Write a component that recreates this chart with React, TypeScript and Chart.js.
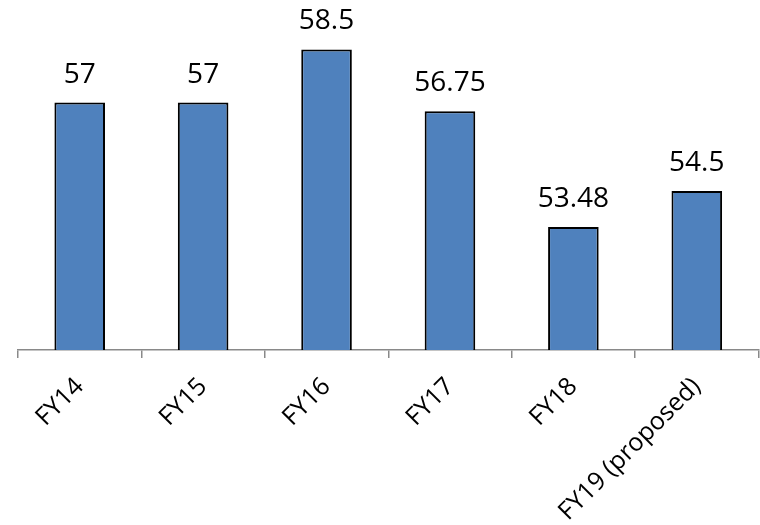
import React, { useEffect, useRef } from "react";
import { Chart, registerables } from "chart.js";

Chart.register(...registerables);

const categories = ["FY14", "FY15", "FY16", "FY17", "FY18", "FY19 (proposed)"];
const values = [57, 57, 58.5, 56.75, 53.48, 54.5];

const FONT = "'Open Sans', 'DejaVu Sans', sans-serif";

const valueLabels = {
  id: "valueLabels",
  afterDatasetsDraw(chart: any) {
    const ctx = chart.ctx;
    const meta = chart.getDatasetMeta(0);
    ctx.save();
    ctx.font = `28px ${FONT}`;
    ctx.fillStyle = "#000";
    ctx.textAlign = "center";
    ctx.textBaseline = "alphabetic";
    meta.data.forEach((bar: any, i: number) => {
      ctx.fillText(String(values[i]), bar.x, bar.y - 20);
    });
    ctx.restore();
  },
};

export default function App() {
  const ref = useRef<HTMLCanvasElement>(null);
  useEffect(() => {
    const chart = new Chart(ref.current!, {
      type: "bar",
      data: {
        labels: categories,
        datasets: [
          {
            data: values,
            backgroundColor: "#4F81BD",
            borderColor: "#000000",
            borderWidth: 2,
            borderSkipped: false,
            barPercentage: 0.41,
            categoryPercentage: 1,
          },
        ],
      },
      options: {
        animation: false,
        responsive: false,
        maintainAspectRatio: false,
        layout: { padding: { left: 18, right: 1.5, top: 0, bottom: 0 } },
        plugins: {
          legend: { display: false },
          tooltip: { enabled: false },
        },
        scales: {
          x: {
            afterFit(scale: any) {
              scale.height = 175;
            },
            border: { display: true, color: "#898989", width: 1.5 },
            grid: {
              display: true,
              offset: true,
              drawOnChartArea: false,
              drawTicks: true,
              tickLength: 8,
              color: "#898989",
              lineWidth: 1.5,
            },
            ticks: {
              autoSkip: false,
              minRotation: 45,
              maxRotation: 45,
              padding: 14,
              color: "#000",
              font: { family: FONT, size: 25 },
            },
          },
          y: {
            display: false,
            min: 50,
            max: 59.9,
          },
        },
      },
      plugins: [valueLabels],
    });
    return () => chart.destroy();
  }, []);
  return (
    <div style={{ position: "fixed", left: 0, top: 0, width: 760, height: 525, background: "#fff" }}>
      <canvas ref={ref} width={760} height={525} />
    </div>
  );
}
